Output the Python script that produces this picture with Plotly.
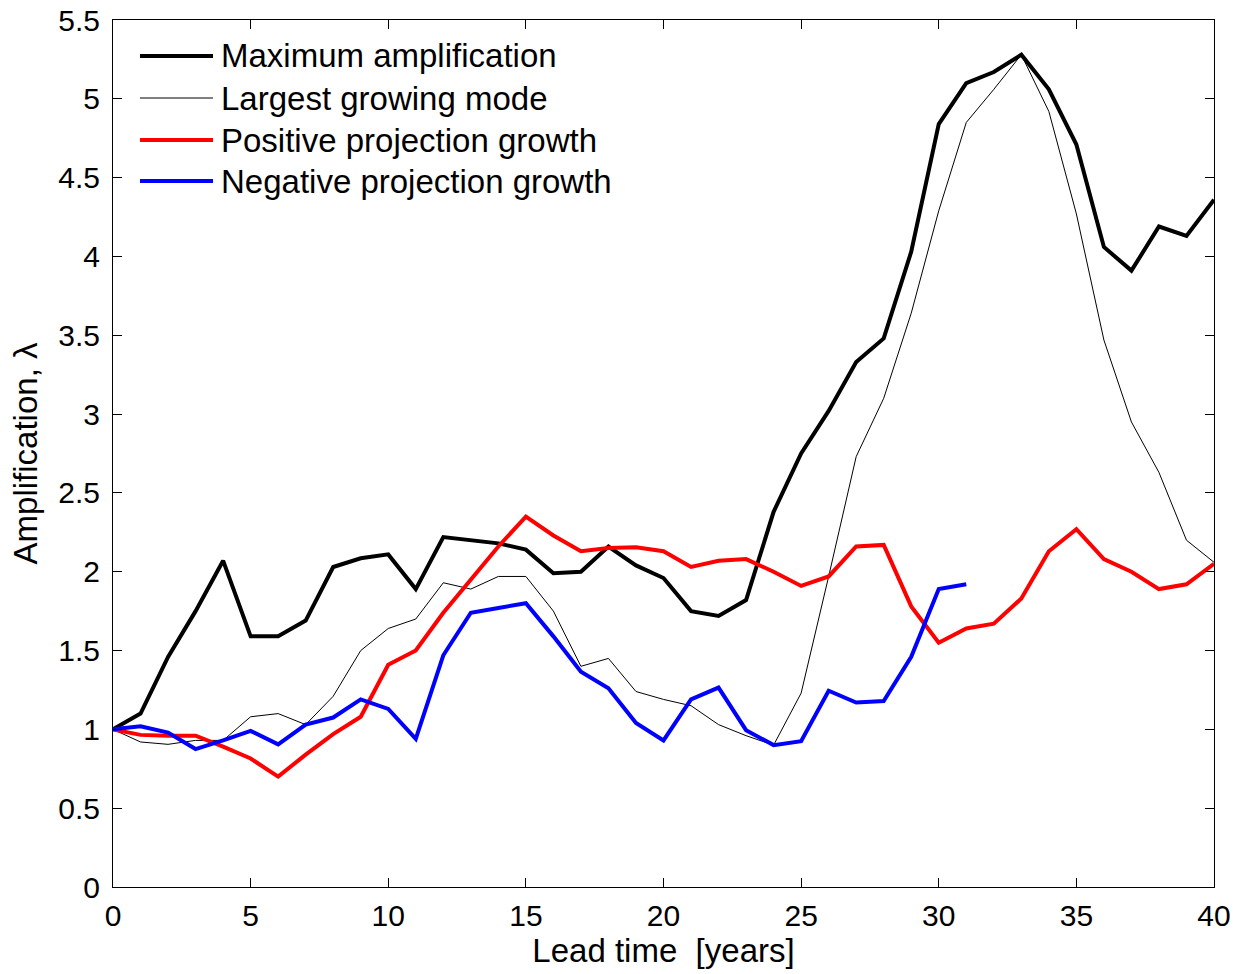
import plotly.graph_objects as go

# Lead time in years
lead_time = list(range(0, 41))

# Maximum amplification (optimal growth)
max_amplification = [
    1.00, 1.10, 1.46, 1.75, 2.07, 1.59, 1.59, 1.69, 2.03, 2.085,
    2.11, 1.89, 2.22, 2.20, 2.18, 2.14, 1.99, 2.00, 2.16, 2.04,
    1.96, 1.75, 1.72, 1.82, 2.38, 2.75, 3.02, 3.33, 3.48, 4.03,
    4.84, 5.10, 5.17, 5.28, 5.06, 4.71, 4.06, 3.91, 4.19, 4.13,
    4.36,
]

# Growth of the largest growing mode
largest_mode = [
    1.00, 0.92, 0.905, 0.93, 0.93, 1.08, 1.10, 1.03, 1.21, 1.50,
    1.64, 1.70, 1.93, 1.89, 1.97, 1.97, 1.75, 1.40, 1.45, 1.24,
    1.19, 1.15, 1.03, 0.96, 0.90, 1.23, 1.97, 2.73, 3.10, 3.64,
    4.29, 4.85, 5.06, 5.28, 4.92, 4.27, 3.47, 2.95, 2.63, 2.20,
    2.06,
]

# Positive projection growth
positive_growth = [
    1.00, 0.965, 0.96, 0.96, 0.89, 0.815, 0.70, 0.84, 0.97, 1.08,
    1.41, 1.50, 1.74, 1.95, 2.16, 2.35, 2.23, 2.13, 2.15, 2.155,
    2.13, 2.03, 2.07, 2.08, 2.00, 1.91, 1.97, 2.16, 2.17, 1.78,
    1.55, 1.64, 1.67, 1.83, 2.13, 2.27, 2.08, 2.00, 1.89, 1.92,
    2.05,
]

# Negative projection growth (available up to year 31)
negative_lead_time = list(range(0, 32))
negative_growth = [
    1.00, 1.02, 0.98, 0.875, 0.93, 0.99, 0.905, 1.03, 1.075, 1.19,
    1.13, 0.94, 1.47, 1.74, 1.77, 1.80, 1.59, 1.365, 1.26, 1.04,
    0.93, 1.19, 1.265, 0.995, 0.90, 0.925, 1.245, 1.17, 1.18, 1.46,
    1.89, 1.92,
]

x_ticks = [0, 5, 10, 15, 20, 25, 30, 35, 40]
y_ticks = [0, 0.5, 1, 1.5, 2, 2.5, 3, 3.5, 4, 4.5, 5, 5.5]
y_tick_text = ["0", "0.5", "1", "1.5", "2", "2.5", "3", "3.5", "4", "4.5", "5", "5.5"]

series = [
    ("Maximum amplification", lead_time, max_amplification, "#000000", 4),
    ("Largest growing mode", lead_time, largest_mode, "#000000", 1),
    ("Positive projection growth", lead_time, positive_growth, "#ff0000", 4),
    ("Negative projection growth", negative_lead_time, negative_growth, "#0000ff", 4),
]

FONT = "Liberation Sans, Arial, Helvetica, sans-serif"

fig = go.Figure()
for name, xs, ys, color, width in series:
    fig.add_trace(go.Scatter(
        x=xs, y=ys, mode="lines", name=name,
        line=dict(color=color, width=width),
        showlegend=False,
    ))

# Plot-area geometry in pixels
W, H = 1248, 974
L, R, T, B = 113, 34, 20, 87
pw, ph = W - L - R, H - T - B


def px_x(px):
    return (px - L) / pw


def px_y(py):
    # py measured from the top of the plot area
    return 1 - py / ph


# Legend drawn as line samples with labels in the upper-left corner
legend_rows = [36, 78, 120, 161]
shapes = []
annotations = []
for (name, _, _, color, width), ry in zip(series, legend_rows):
    shapes.append(dict(
        type="line", xref="paper", yref="paper",
        x0=px_x(140), x1=px_x(213), y0=px_y(ry), y1=px_y(ry),
        line=dict(color=color, width=width),
    ))
    annotations.append(dict(
        xref="paper", yref="paper", x=px_x(219), y=px_y(ry),
        text=name, showarrow=False, xanchor="left", yanchor="middle",
        font=dict(family=FONT, size=33, color="#000000"),
    ))

fig.update_layout(
    width=W, height=H,
    margin=dict(l=L, r=R, t=T, b=B, pad=0, autoexpand=False),
    paper_bgcolor="white", plot_bgcolor="white",
    font=dict(family=FONT, size=30, color="#000000"),
    shapes=shapes, annotations=annotations,
)

fig.update_xaxes(
    range=[0, 40], tickvals=x_ticks, ticktext=[str(v) for v in x_ticks],
    showgrid=False, zeroline=False, automargin=False,
    showline=True, linecolor="#000000", linewidth=1, mirror="ticks",
    ticks="inside", ticklen=9, tickwidth=1, tickcolor="#000000",
    tickfont=dict(family=FONT, size=30), ticklabelstandoff=2,
    ticklabeloverflow="allow",
    title=dict(text="Lead time\u00a0 [years]", font=dict(family=FONT, size=33), standoff=0),
)
fig.update_yaxes(
    range=[0, 5.5], tickvals=y_ticks, ticktext=y_tick_text,
    showgrid=False, zeroline=False, automargin=False,
    showline=True, linecolor="#000000", linewidth=1, mirror="ticks",
    ticks="inside", ticklen=9, tickwidth=1, tickcolor="#000000",
    tickfont=dict(family=FONT, size=30), ticklabelstandoff=6,
    ticklabeloverflow="allow",
    title=dict(text="Amplification, λ", font=dict(family=FONT, size=33), standoff=10),
)

fig.write_html("out.html")
